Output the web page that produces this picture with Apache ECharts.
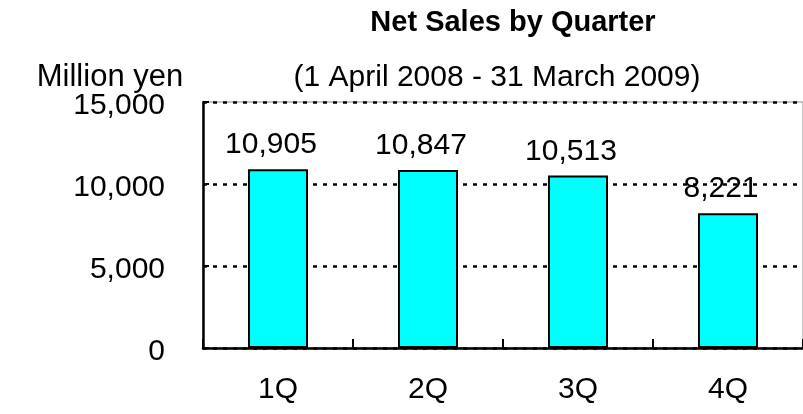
<!DOCTYPE html>
<html>
<head>
<meta charset="utf-8">
<script src="https://cdn.jsdelivr.net/npm/echarts@6/dist/echarts.min.js"></script>
<style>
html,body{margin:0;padding:0;background:#fff;}
#chart{width:803px;height:414px;}
</style>
</head>
<body>
<div id="chart"></div>
<script>
const categories = ['1Q', '2Q', '3Q', '4Q'];
const netSales = [10905, 10847, 10513, 8221];
const yTicks = [0, 5000, 10000, 15000];
const titleText = 'Net Sales by Quarter';
const subtitleText = '(1 April 2008 - 31 March 2009)';
const unitText = 'Million yen';

const FONT = '"Liberation Sans", Arial, sans-serif';
const fmt = v => v.toLocaleString('en-US');

const chart = echarts.init(document.getElementById('chart'), null, {renderer: 'canvas'});
chart.setOption({
  animation: false,
  backgroundColor: '#ffffff',
  textStyle: {fontFamily: FONT},
  graphic: [
    {type: 'text', style: {text: titleText, font: 'bold 29px ' + FONT, fill: '#000', x: 513, y: 23, textAlign: 'center', textVerticalAlign: 'middle'}},
    {type: 'text', style: {text: subtitleText, font: '30px ' + FONT, fill: '#000', x: 497, y: 78, textAlign: 'center', textVerticalAlign: 'middle'}},
    {type: 'text', style: {text: unitText, font: '31px ' + FONT, fill: '#000', x: 110, y: 77, textAlign: 'center', textVerticalAlign: 'middle'}}
  ],
  grid: {
    left: 203, right: -8, top: 102, bottom: 66,
    show: true, borderColor: '#8a8a8a', borderWidth: 1, backgroundColor: 'transparent'
  },
  xAxis: {
    type: 'category',
    data: categories,
    axisLine: {lineStyle: {color: '#000', width: 2.5}},
    axisTick: {show: true, inside: true, length: 9, lineStyle: {color: '#000', width: 2}},
    axisLabel: {color: '#000', fontSize: 30, fontFamily: FONT, margin: 27}
  },
  yAxis: {
    type: 'value',
    min: yTicks[0], max: yTicks[yTicks.length - 1], interval: yTicks[1] - yTicks[0],
    axisLine: {show: true, lineStyle: {color: '#000', width: 2.5}},
    axisTick: {show: true, inside: true, length: 6, lineStyle: {color: '#000', width: 2}},
    axisLabel: {
      color: '#000', fontSize: 30, fontFamily: FONT, margin: 38,
      formatter: v => '{v|' + fmt(v) + '}',
      rich: {v: {fontSize: 30, fontFamily: FONT, color: '#000', padding: [8, 0, 0, 0]}}
    },
    splitLine: {show: true, lineStyle: {color: '#000', width: 2.5, type: [4, 6]}}
  },
  series: [{
    type: 'bar',
    data: netSales,
    barWidth: '40%',
    itemStyle: {color: '#00ffff', borderColor: '#000', borderWidth: 2},
    label: {
      show: true, position: 'top', distance: 9, offset: [-7, 0],
      color: '#000', fontSize: 30, fontFamily: FONT,
      formatter: p => fmt(p.value)
    }
  }]
});
</script>
</body>
</html>
